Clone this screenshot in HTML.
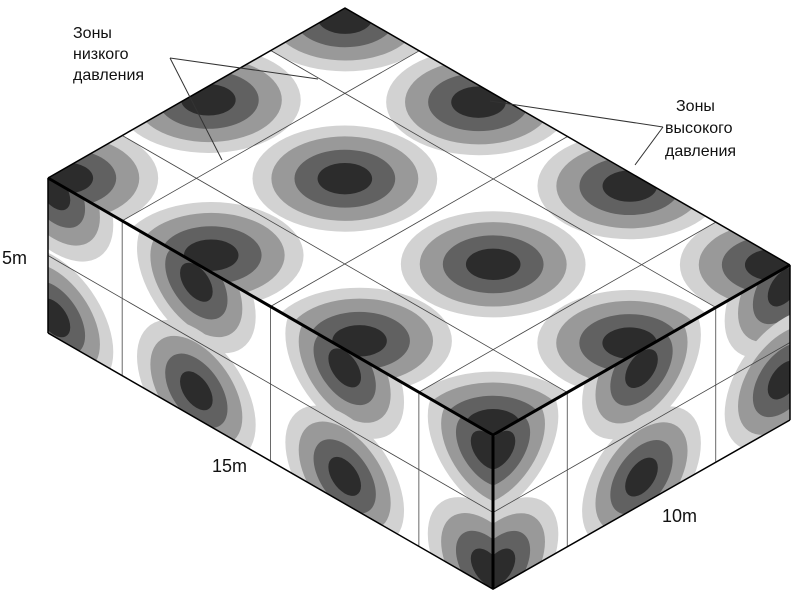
<!DOCTYPE html>
<html><head><meta charset="utf-8"><style>
html,body{margin:0;padding:0;background:#fff;overflow:hidden;}
svg{display:block;}
text{font-family:"Liberation Sans",sans-serif;fill:#111;}
</style></head><body>
<svg width="800" height="594" viewBox="0 0 800 594" xmlns="http://www.w3.org/2000/svg">
<defs>
<g id="b">
<circle r="2.2" fill="#d2d2d2"/>
<circle r="1.75" fill="#999"/>
<circle r="1.2" fill="#616161"/>
<circle r="0.65" fill="#2c2c2c"/>
</g>
<g id="s">
<circle r="2.0" fill="#d2d2d2"/>
<circle r="1.55" fill="#999"/>
<circle r="1.05" fill="#616161"/>
<circle r="0.55" fill="#2c2c2c"/>
</g>
<clipPath id="ct"><rect x="0" y="0" width="15" height="10"/></clipPath>
<clipPath id="cf"><rect x="0" y="0" width="15" height="5"/></clipPath>
<clipPath id="cr"><rect x="0" y="0" width="10" height="5"/></clipPath>
</defs>

<g transform="matrix(29.67,17.13,29.7,-17,48,178)">
<g clip-path="url(#ct)">
<rect x="0" y="0" width="15" height="10" fill="#fff"/>
<use href="#b" x="0.3" y="0.3"/><use href="#b" x="5" y="0.5"/><use href="#b" x="10" y="0.5"/><use href="#b" x="14.7" y="0.3"/>
<use href="#b" x="0.4" y="5"/><use href="#b" x="5" y="5"/><use href="#b" x="10" y="5"/><use href="#b" x="14.6" y="5"/>
<use href="#b" x="0.3" y="9.7"/><use href="#b" x="5" y="9.5"/><use href="#b" x="10" y="9.6"/><use href="#b" x="14.7" y="9.7"/>
<line x1="2.5" y1="0" x2="2.5" y2="10" stroke="#444" vector-effect="non-scaling-stroke" stroke-width="0.8"/>
<line x1="7.5" y1="0" x2="7.5" y2="10" stroke="#444" vector-effect="non-scaling-stroke" stroke-width="0.8"/>
<line x1="12.5" y1="0" x2="12.5" y2="10" stroke="#444" vector-effect="non-scaling-stroke" stroke-width="0.8"/>
<line x1="0" y1="2.5" x2="15" y2="2.5" stroke="#444" vector-effect="non-scaling-stroke" stroke-width="0.8"/>
<line x1="0" y1="7.5" x2="15" y2="7.5" stroke="#444" vector-effect="non-scaling-stroke" stroke-width="0.8"/>
</g>
</g>

<g transform="matrix(29.67,17.13,0,31,48,178)">
<g clip-path="url(#cf)">
<rect x="0" y="0" width="15" height="5" fill="#fff"/>
<use href="#s" x="0.2" y="0.3"/><use href="#s" x="5" y="0.6"/><use href="#s" x="10" y="0.6"/><use href="#s" x="14.8" y="0.6"/>
<use href="#s" x="0.2" y="4.4"/><use href="#s" x="5" y="4.1"/><use href="#s" x="10" y="4.1"/><use href="#s" x="14.8" y="4.4"/>
<line x1="2.5" y1="0" x2="2.5" y2="5" stroke="#444" vector-effect="non-scaling-stroke" stroke-width="0.8"/>
<line x1="7.5" y1="0" x2="7.5" y2="5" stroke="#444" vector-effect="non-scaling-stroke" stroke-width="0.8"/>
<line x1="12.5" y1="0" x2="12.5" y2="5" stroke="#444" vector-effect="non-scaling-stroke" stroke-width="0.8"/>
<line x1="0" y1="2.5" x2="15" y2="2.5" stroke="#444" vector-effect="non-scaling-stroke" stroke-width="0.8"/>
</g>
</g>

<g transform="matrix(29.7,-17,0,31,493,435)">
<g clip-path="url(#cr)">
<rect x="0" y="0" width="10" height="5" fill="#fff"/>
<use href="#s" x="0.2" y="0.6"/><use href="#s" x="5" y="0.6"/><use href="#s" x="9.8" y="0.6"/>
<use href="#s" x="0.2" y="4.4"/><use href="#s" x="5" y="4.1"/><use href="#s" x="9.8" y="3.6"/>
<line x1="2.5" y1="0" x2="2.5" y2="5" stroke="#444" vector-effect="non-scaling-stroke" stroke-width="0.8"/>
<line x1="7.5" y1="0" x2="7.5" y2="5" stroke="#444" vector-effect="non-scaling-stroke" stroke-width="0.8"/>
<line x1="0" y1="2.5" x2="10" y2="2.5" stroke="#444" vector-effect="non-scaling-stroke" stroke-width="0.8"/>
</g>
</g>

<g stroke="#000" fill="none" stroke-linejoin="round">
<polyline points="48,178 345,8 790,265" stroke-width="1.5"/>
<line x1="48" y1="178" x2="48" y2="333" stroke-width="1.5"/>
<line x1="790" y1="265" x2="790" y2="420" stroke-width="1.5"/>
<polyline points="48,333 493,589 790,420" stroke-width="1.5"/>
<polyline points="48,178 493,435 790,265" stroke-width="3"/>
<line x1="493" y1="435" x2="493" y2="589" stroke-width="3"/>
</g>

<g stroke="#333" stroke-width="1" fill="none">
<line x1="170" y1="58" x2="222" y2="160"/>
<line x1="170" y1="58" x2="318" y2="79"/>
<line x1="663" y1="127" x2="490" y2="101"/>
<line x1="663" y1="127" x2="635" y2="165"/>
</g>

<g font-size="16">
<text x="73" y="38">Зоны</text>
<text x="73" y="59">низкого</text>
<text x="73" y="80">давления</text>
<text x="676" y="111">Зоны</text>
<text x="665" y="133">высокого</text>
<text x="665" y="156">давления</text>
</g>
<g font-size="18">
<text x="2" y="264">5m</text>
<text x="212" y="472">15m</text>
<text x="662" y="522">10m</text>
</g>
</svg>
</body></html>
